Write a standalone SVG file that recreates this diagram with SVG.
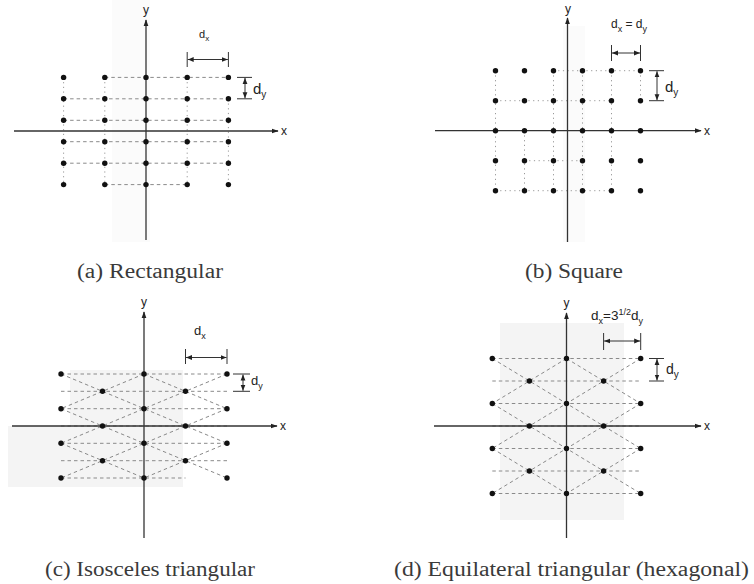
<svg xmlns="http://www.w3.org/2000/svg" width="754" height="584" viewBox="0 0 754 584">
<defs>
<marker id="ax" viewBox="0 0 10 10" refX="9" refY="5" markerWidth="7" markerHeight="7" markerUnits="userSpaceOnUse" orient="auto"><path d="M0,1.5 L10,5 L0,8.5 z" fill="#222"/></marker>
<marker id="dm" viewBox="0 0 10 10" refX="10" refY="5" markerWidth="6" markerHeight="6" markerUnits="userSpaceOnUse" orient="auto-start-reverse"><path d="M0,1 L10,5 L0,9 z" fill="#222"/></marker>
<circle id="p" r="2.7" fill="#111"/>
</defs>
<style>
.axis{stroke:#333;stroke-width:1.3;fill:none;marker-end:url(#ax)}
.dash{stroke:#8a8a8a;stroke-width:1;stroke-dasharray:3.5 3;fill:none}
.dot{stroke:#999;stroke-width:1;stroke-dasharray:1.2 3.5;fill:none}
.tick{stroke:#333;stroke-width:1;fill:none}
.dim{stroke:#333;stroke-width:1;fill:none;marker-start:url(#dm);marker-end:url(#dm)}
.lbl{font-family:"Liberation Sans",Arial,sans-serif;fill:#222}
.cap{font-family:"Liberation Serif","Times New Roman",serif;font-size:20px;fill:#3a3a3a}
.bg{fill:#fbfbfb}
.bg2{fill:#f4f4f4}
</style>
<rect width="754" height="584" fill="#fff"/>

<!-- (a) Rectangular -->
<g id="panel-a">
  <rect class="bg" x="112" y="0" width="38" height="242"/>
  <g id="a-connectors">
    <path class="dash" d="M104.8,77.4 H228.4 M63.6,98.8 H228.4 M63.6,120.3 H228.4 M63.6,141.7 H228.4 M63.6,163.2 H228.4 M104.8,184.6 H187.2"/>
    <path class="dot" d="M63.6,77.4 V184.6 M104.8,77.4 V184.6 M187.2,77.4 V184.6 M228.4,98.8 V184.6"/>
    <path class="axis" d="M146,240 V20"/>
    <path class="axis" d="M14,131 H278"/>
    <path class="tick" d="M187.2,52 V67 M228.4,52 V67 M237,77.4 H252 M237,98.8 H252"/>
    <path class="dim" d="M187.7,59.5 H227.9"/>
    <path class="dim" d="M245,77.9 V98.3"/>
  </g>
  <g id="a-points">
    <use href="#p" x="63.6" y="77.4"/><use href="#p" x="104.8" y="77.4"/><use href="#p" x="146" y="77.4"/><use href="#p" x="187.2" y="77.4"/><use href="#p" x="228.4" y="77.4"/>
    <use href="#p" x="63.6" y="98.8"/><use href="#p" x="104.8" y="98.8"/><use href="#p" x="146" y="98.8"/><use href="#p" x="187.2" y="98.8"/><use href="#p" x="228.4" y="98.8"/>
    <use href="#p" x="63.6" y="120.3"/><use href="#p" x="104.8" y="120.3"/><use href="#p" x="146" y="120.3"/><use href="#p" x="187.2" y="120.3"/><use href="#p" x="228.4" y="120.3"/>
    <use href="#p" x="63.6" y="141.7"/><use href="#p" x="104.8" y="141.7"/><use href="#p" x="146" y="141.7"/><use href="#p" x="187.2" y="141.7"/><use href="#p" x="228.4" y="141.7"/>
    <use href="#p" x="63.6" y="163.2"/><use href="#p" x="104.8" y="163.2"/><use href="#p" x="146" y="163.2"/><use href="#p" x="187.2" y="163.2"/><use href="#p" x="228.4" y="163.2"/>
    <use href="#p" x="63.6" y="184.6"/><use href="#p" x="104.8" y="184.6"/><use href="#p" x="146" y="184.6"/><use href="#p" x="187.2" y="184.6"/><use href="#p" x="228.4" y="184.6"/>
  </g>
  <text class="lbl" x="146" y="14" font-size="12" text-anchor="middle">y</text>
  <text class="lbl" x="281" y="135" font-size="12">x</text>
  <text class="lbl" x="199" y="38" font-size="11">d<tspan font-size="8" dy="3">x</tspan></text>
  <text class="lbl" x="253" y="94" font-size="15">d<tspan font-size="10" dy="4">y</tspan></text>
  <text class="cap" x="77" y="278" textLength="146" lengthAdjust="spacingAndGlyphs">(a) Rectangular</text>
</g>

<!-- (b) Square -->
<g id="panel-b">
  <rect class="bg" x="563" y="26" width="22" height="216"/>
  <g id="b-connectors">
    <path class="dot" d="M495.5,70.7 V190.7 M524.5,130.7 V190.7 M553.5,70.7 V190.7 M582.5,70.7 V190.7 M611.5,70.7 V190.7 M640.5,70.7 V100.7"/>
    <path class="dot" d="M553.5,70.7 H640.5 M495.5,100.7 H611.5 M524.5,160.7 H582.5 M495.5,190.7 H611.5"/>
    <path class="axis" d="M567.5,242 V18"/>
    <path class="axis" d="M435,130.7 H701"/>
    <path class="tick" d="M611.5,45 V61 M640.5,45 V61 M649,70.7 H664 M649,100.7 H664"/>
    <path class="dim" d="M612,53 H640"/>
    <path class="dim" d="M657,71.2 V100.2"/>
  </g>
  <g id="b-points">
    <use href="#p" x="495.5" y="70.7"/><use href="#p" x="524.5" y="70.7"/><use href="#p" x="553.5" y="70.7"/><use href="#p" x="582.5" y="70.7"/><use href="#p" x="611.5" y="70.7"/><use href="#p" x="640.5" y="70.7"/>
    <use href="#p" x="495.5" y="100.7"/><use href="#p" x="524.5" y="100.7"/><use href="#p" x="553.5" y="100.7"/><use href="#p" x="582.5" y="100.7"/><use href="#p" x="611.5" y="100.7"/><use href="#p" x="640.5" y="100.7"/>
    <use href="#p" x="495.5" y="130.7"/><use href="#p" x="524.5" y="130.7"/><use href="#p" x="553.5" y="130.7"/><use href="#p" x="582.5" y="130.7"/><use href="#p" x="611.5" y="130.7"/><use href="#p" x="640.5" y="130.7"/>
    <use href="#p" x="495.5" y="160.7"/><use href="#p" x="524.5" y="160.7"/><use href="#p" x="553.5" y="160.7"/><use href="#p" x="582.5" y="160.7"/><use href="#p" x="611.5" y="160.7"/><use href="#p" x="640.5" y="160.7"/>
    <use href="#p" x="495.5" y="190.7"/><use href="#p" x="524.5" y="190.7"/><use href="#p" x="553.5" y="190.7"/><use href="#p" x="582.5" y="190.7"/><use href="#p" x="611.5" y="190.7"/><use href="#p" x="640.5" y="190.7"/>
  </g>
  <text class="lbl" x="568" y="13" font-size="12" text-anchor="middle">y</text>
  <text class="lbl" x="704" y="135" font-size="12">x</text>
  <text class="lbl" x="611" y="28" font-size="12">d<tspan font-size="9" dy="4">x</tspan><tspan dy="-4"> = d</tspan><tspan font-size="9" dy="4">y</tspan></text>
  <text class="lbl" x="665" y="92" font-size="15">d<tspan font-size="10" dy="4">y</tspan></text>
  <text class="cap" x="525" y="278" textLength="98" lengthAdjust="spacingAndGlyphs">(b) Square</text>
</g>

<!-- (c) Isosceles triangular -->
<g id="panel-c">
  <path class="bg2" d="M8,426 H70 V370 H183 V487 H8 Z"/>
  <g id="c-connectors">
    <path class="dash" d="M61,374 H227 M61,391.3 H227 M61,408.7 H227 M61,426 H227 M61,443.3 H227 M61,460.7 H227 M61,478 H185.5"/>
    <path class="dash" d="M144,374 L227,408.7 M61,374 L227,443.3 M61,408.7 L227,478 M61,443.3 L144,478"/>
    <path class="dash" d="M144,374 L61,408.7 M227,374 L61,443.3 M227,408.7 L61,478 M227,443.3 L144,478"/>
    <path class="axis" d="M144,538 V312"/>
    <path class="axis" d="M12,426 H277"/>
    <path class="tick" d="M185.5,349 V364 M227,349 V364 M233,374 H250 M233,391.3 H250"/>
    <path class="dim" d="M186,357.5 H226.5"/>
    <path class="dim" d="M243,374.5 V390.8"/>
  </g>
  <g id="c-points">
    <use href="#p" x="61" y="374"/><use href="#p" x="144" y="374"/><use href="#p" x="227" y="374"/>
    <use href="#p" x="102.5" y="391.3"/><use href="#p" x="185.5" y="391.3"/>
    <use href="#p" x="61" y="408.7"/><use href="#p" x="144" y="408.7"/><use href="#p" x="227" y="408.7"/>
    <use href="#p" x="102.5" y="426"/><use href="#p" x="185.5" y="426"/>
    <use href="#p" x="61" y="443.3"/><use href="#p" x="144" y="443.3"/><use href="#p" x="227" y="443.3"/>
    <use href="#p" x="102.5" y="460.7"/><use href="#p" x="185.5" y="460.7"/>
    <use href="#p" x="61" y="478"/><use href="#p" x="144" y="478"/><use href="#p" x="227" y="478"/>
  </g>
  <text class="lbl" x="144" y="306" font-size="12" text-anchor="middle">y</text>
  <text class="lbl" x="280" y="430" font-size="12">x</text>
  <text class="lbl" x="194" y="335" font-size="13">d<tspan font-size="9" dy="4">x</tspan></text>
  <text class="lbl" x="251" y="385" font-size="13">d<tspan font-size="9" dy="4">y</tspan></text>
  <text class="cap" x="45" y="576" textLength="210" lengthAdjust="spacingAndGlyphs">(c) Isosceles triangular</text>
</g>

<!-- (d) Equilateral triangular (hexagonal) -->
<g id="panel-d">
  <rect class="bg2" x="500" y="323" width="124" height="197"/>
  <g id="d-connectors">
    <path class="dash" d="M492.3,358.5 H640.7 M492.3,381 H640.7 M492.3,403.5 H640.7 M492.3,426 H640.7 M492.3,448.5 H640.7 M492.3,471 H640.7 M492.3,493.5 H640.7"/>
    <path class="dash" d="M566.5,358.5 L640.7,403.5 M492.3,358.5 L640.7,448.5 M492.3,403.5 L640.7,493.5 M492.3,448.5 L566.5,493.5"/>
    <path class="dash" d="M566.5,358.5 L492.3,403.5 M640.7,358.5 L492.3,448.5 M640.7,403.5 L492.3,493.5 M640.7,448.5 L566.5,493.5"/>
    <path class="axis" d="M566.5,538 V313"/>
    <path class="axis" d="M434,426 H701"/>
    <path class="tick" d="M603.6,333 V350 M640.7,333 V350 M649,358.5 H664 M649,381 H664"/>
    <path class="dim" d="M604.1,341 H640.2"/>
    <path class="dim" d="M657,359 V380.5"/>
  </g>
  <g id="d-points">
    <use href="#p" x="492.3" y="358.5"/><use href="#p" x="566.5" y="358.5"/><use href="#p" x="640.7" y="358.5"/>
    <use href="#p" x="529.4" y="381"/><use href="#p" x="603.6" y="381"/>
    <use href="#p" x="492.3" y="403.5"/><use href="#p" x="566.5" y="403.5"/><use href="#p" x="640.7" y="403.5"/>
    <use href="#p" x="529.4" y="426"/><use href="#p" x="603.6" y="426"/>
    <use href="#p" x="492.3" y="448.5"/><use href="#p" x="566.5" y="448.5"/><use href="#p" x="640.7" y="448.5"/>
    <use href="#p" x="529.4" y="471"/><use href="#p" x="603.6" y="471"/>
    <use href="#p" x="492.3" y="493.5"/><use href="#p" x="566.5" y="493.5"/><use href="#p" x="640.7" y="493.5"/>
  </g>
  <text class="lbl" x="566.5" y="307" font-size="12" text-anchor="middle">y</text>
  <text class="lbl" x="704" y="430" font-size="12">x</text>
  <text class="lbl" x="591" y="320" font-size="13.5">d<tspan font-size="9" dy="4">x</tspan><tspan dy="-4">=3</tspan><tspan font-size="9" dy="-5">1/2</tspan><tspan dy="5">d</tspan><tspan font-size="9" dy="4">y</tspan></text>
  <text class="lbl" x="666" y="374" font-size="14">d<tspan font-size="10" dy="4">y</tspan></text>
  <text class="cap" x="394" y="576" textLength="355" lengthAdjust="spacingAndGlyphs">(d) Equilateral triangular (hexagonal)</text>
</g>
</svg>
